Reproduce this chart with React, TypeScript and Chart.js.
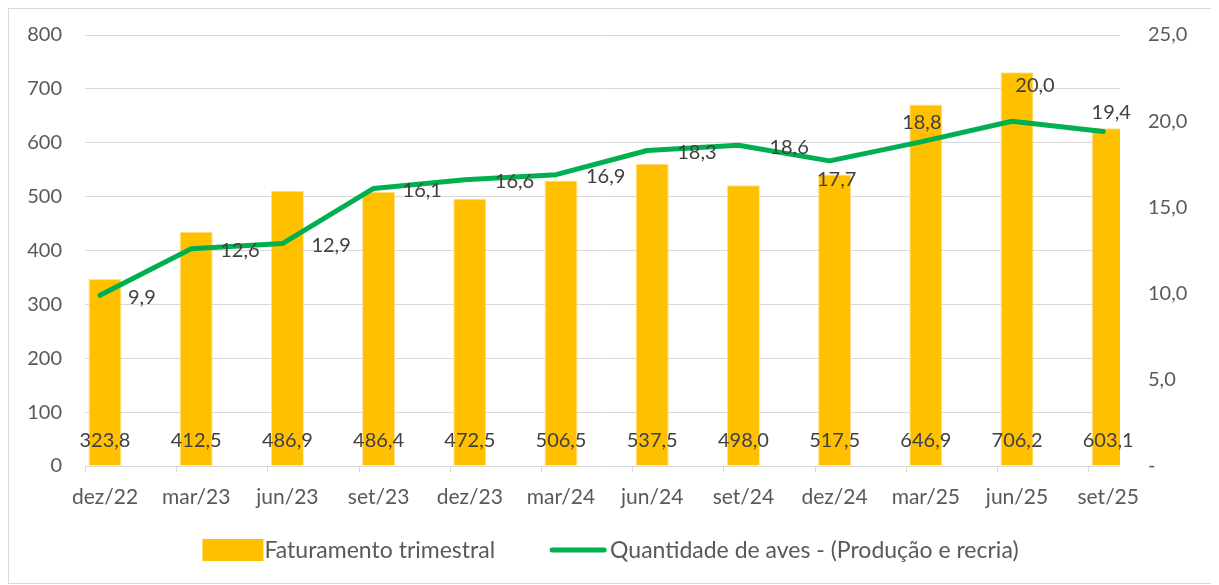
import React, { useEffect, useRef } from "react";
import { Chart, registerables } from "chart.js";

Chart.register(...registerables);

const categories = ["dez/22", "mar/23", "jun/23", "set/23", "dez/23", "mar/24", "jun/24", "set/24", "dez/24", "mar/25", "jun/25", "set/25"];
// bar heights as drawn (left axis)
const barHeights = [347, 435, 511, 509, 496, 530, 561, 521, 541, 671, 731, 627];
// values printed on the bars
const barLabels = [323.8, 412.5, 486.9, 486.4, 472.5, 506.5, 537.5, 498.0, 517.5, 646.9, 706.2, 603.1];
// line values (right axis)
const lineValues = [9.9, 12.6, 12.9, 16.1, 16.6, 16.9, 18.3, 18.6, 17.7, 18.8, 20.0, 19.4];
const leftTicks = [0, 100, 200, 300, 400, 500, 600, 700, 800];
const rightTicks = [0, 5, 10, 15, 20, 25];

const barName = "Faturamento trimestral";
const lineName = "Quantidade de aves - (Produção e recria)";

// label placement styles for line labels
const lineLabelPlacement = [
  { align: "left", dx: 28, dy: 2 },
  { align: "left", dx: 29, dy: 2 },
  { align: "left", dx: 29, dy: 2 },
  { align: "left", dx: 29, dy: 2 },
  { align: "left", dx: 30, dy: 2 },
  { align: "left", dx: 30, dy: 2 },
  { align: "left", dx: 30, dy: 2 },
  { align: "left", dx: 31, dy: 2 },
  { align: "center", dx: 7, dy: 19 },
  { align: "center", dx: 1, dy: -19 },
  { align: "center", dx: 23, dy: -36 },
  { align: "center", dx: 8, dy: -19 },
];

const FONT = "Lato";
const NUM_SIZE = 20;
const CAT_SIZE = 21;
const LEGEND_SIZE = 23;
const AXIS_COLOR = "#595959";
const LABEL_COLOR = "#404040";
const GRID = "#d9d9d9";
const BAR_COLOR = "#FFC000";
const LINE_COLOR = "#00B050";

const fmt = (v: number) => v.toFixed(1).replace(".", ",");

const customPlugin = {
  id: "custom",
  afterDatasetsDraw(chart: any) {
    const ctx = chart.ctx;
    const area = chart.chartArea;
    const xs = chart.scales.x;
    ctx.save();
    // x axis tick marks
    ctx.strokeStyle = GRID;
    ctx.lineWidth = 1;
    for (let k = 0; k < categories.length; k++) {
      const px = Math.round(xs.getPixelForValue(xs.min + k)) + 0.5;
      ctx.beginPath();
      ctx.moveTo(px, area.bottom);
      ctx.lineTo(px, area.bottom + 6);
      ctx.stroke();
    }
    ctx.font = `${NUM_SIZE}px ${FONT}`;
    ctx.fillStyle = LABEL_COLOR;
    ctx.textBaseline = "middle";
    // bar labels
    const barMeta = chart.getDatasetMeta(0);
    barMeta.data.forEach((el: any, i: number) => {
      ctx.textAlign = "center";
      ctx.fillText(fmt(barLabels[i]), el.x, el.base - 25);
    });
    // line labels
    const lineMeta = chart.getDatasetMeta(1);
    lineMeta.data.forEach((el: any, i: number) => {
      const p = lineLabelPlacement[i];
      ctx.textAlign = p.align;
      ctx.fillText(fmt(lineValues[i]), el.x + p.dx, el.y + p.dy);
    });
    ctx.restore();
  },
  afterDraw(chart: any) {
    const ctx = chart.ctx;
    ctx.save();
    ctx.font = `${LEGEND_SIZE}px ${FONT}`;
    ctx.fillStyle = AXIS_COLOR;
    ctx.textBaseline = "middle";
    ctx.textAlign = "left";
    const boxW = 61, boxH = 22, gap1 = 1, gapMid = 55, lineW = 56, gap2 = 4;
    const t1 = ctx.measureText(barName).width;
    const t2 = ctx.measureText(lineName).width;
    const total = boxW + gap1 + t1 + gapMid + lineW + gap2 + t2;
    let x = chart.width / 2 - total / 2;
    const y = 541;
    ctx.fillStyle = BAR_COLOR;
    ctx.fillRect(x, y - boxH / 2, boxW, boxH);
    x += boxW + gap1;
    ctx.fillStyle = AXIS_COLOR;
    ctx.fillText(barName, x, y + 1);
    x += t1 + gapMid;
    ctx.strokeStyle = LINE_COLOR;
    ctx.lineWidth = 5;
    ctx.lineCap = "round";
    ctx.beginPath();
    ctx.moveTo(x + 2, y);
    ctx.lineTo(x + lineW - 2, y);
    ctx.stroke();
    x += lineW + gap2;
    ctx.fillText(lineName, x, y + 1);
    ctx.restore();
  },
};

export default function App() {
  const ref = useRef<HTMLCanvasElement | null>(null);
  useEffect(() => {
    if (!ref.current) return;
    const chart = new Chart(ref.current, {
      type: "bar",
      data: {
        datasets: [
          {
            type: "bar",
            label: barName,
            data: barHeights.map((v, i) => ({ x: i, y: v })),
            backgroundColor: BAR_COLOR,
            borderColor: "#FFE08A",
            borderWidth: 1,
            grouped: false,
            maxBarThickness: 33,
            barPercentage: 0.9,
            categoryPercentage: 0.9,
            xAxisID: "x",
            yAxisID: "y",
            order: 2,
          },
          {
            type: "line",
            label: lineName,
            data: lineValues.map((v, i) => ({ x: i, y: v })),
            borderColor: LINE_COLOR,
            backgroundColor: LINE_COLOR,
            borderWidth: 5,
            borderCapStyle: "round",
            borderJoinStyle: "round",
            pointRadius: 0,
            tension: 0,
            xAxisID: "x2",
            yAxisID: "y1",
            order: 1,
          },
        ] as any,
      },
      options: {
        animation: false,
        responsive: false,
        maintainAspectRatio: false,
        layout: { padding: { top: 26, bottom: 67, left: 0, right: 0 } },
        plugins: {
          legend: { display: false },
          tooltip: { enabled: false },
        },
        scales: {
          x: {
            type: "linear",
            position: "bottom",
            offset: false,
            min: -0.219,
            max: 11.129,
            afterBuildTicks: (s: any) => {
              s.ticks = categories.map((_, i) => ({ value: i }));
            },
            afterFit: (s: any) => {
              s.height = 50;
              s.paddingLeft = 0;
              s.paddingRight = 0;
            },
            ticks: {
              callback: (v: any) => categories[Math.round(v)] ?? "",
              font: { family: FONT, size: CAT_SIZE },
              color: AXIS_COLOR,
              padding: 19,
              maxRotation: 0,
              autoSkip: false,
            },
            grid: { display: false, drawTicks: false },
            border: { display: false },
          },
          x2: {
            type: "linear",
            display: false,
            offset: false,
            min: -0.1645,
            max: 11.184,
          },
          y: {
            position: "left",
            min: 0,
            max: 800,
            afterBuildTicks: (s: any) => {
              s.ticks = leftTicks.map((v) => ({ value: v }));
            },
            afterFit: (s: any) => {
              s.width = 76;
              s.paddingTop = 0;
              s.paddingBottom = 0;
            },
            ticks: {
              font: { family: FONT, size: NUM_SIZE },
              color: AXIS_COLOR,
              padding: 23,
            },
            grid: { color: GRID, lineWidth: 1, drawTicks: false },
            border: { display: false },
          },
          y1: {
            position: "right",
            min: 0,
            max: 25,
            afterBuildTicks: (s: any) => {
              s.ticks = rightTicks.map((v) => ({ value: v }));
            },
            afterFit: (s: any) => {
              s.width = 92;
              s.paddingTop = 0;
              s.paddingBottom = 0;
            },
            ticks: {
              callback: (v: any) => (v === 0 ? "-" : fmt(Number(v))),
              font: { family: FONT, size: NUM_SIZE },
              color: AXIS_COLOR,
              padding: 28,
            },
            grid: { display: false, drawTicks: false },
            border: { display: false },
          },
        },
      } as any,
      plugins: [customPlugin],
    });
    return () => chart.destroy();
  }, []);

  return (
    <div
      style={{
        width: 1205,
        height: 576,
        border: "1px solid #d9d9d9",
        boxSizing: "border-box",
        background: "#fff",
      }}
    >
      <canvas ref={ref} width={1203} height={574} style={{ display: "block", width: 1203, height: 574 }} />
    </div>
  );
}
